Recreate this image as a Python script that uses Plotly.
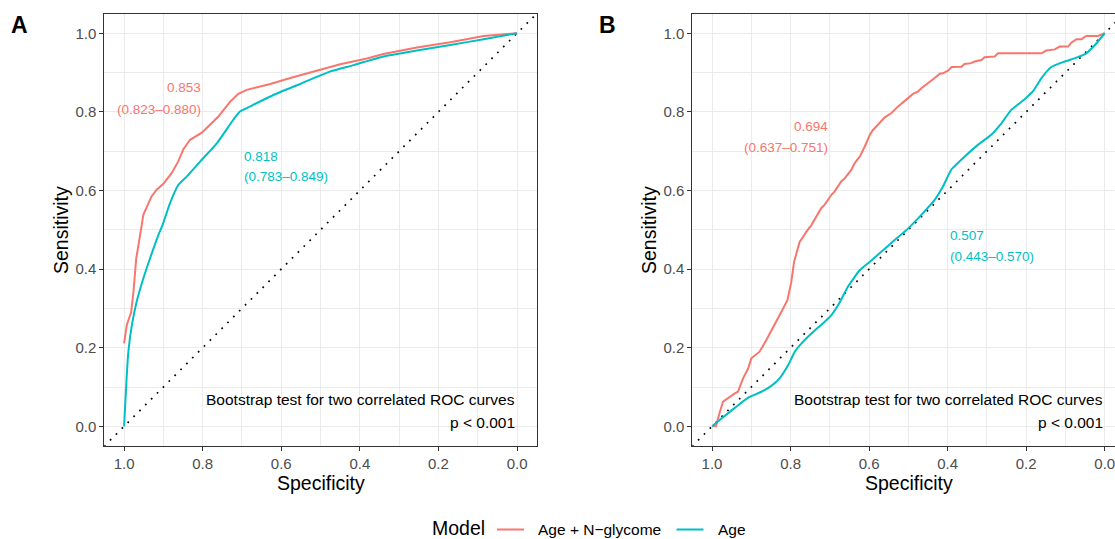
import plotly.graph_objects as go

# ---------------- data ----------------
models = ["Age + N\u2212glycome", "Age"]
colors = ["#F8766D", "#00BFC4"]
legend_title = "Model"

# Panel A
A_glyco_spec = [1.0, 0.993, 0.982, 0.976, 0.969, 0.963, 0.955, 0.951, 0.930, 0.917, 0.900, 0.879,
                0.862, 0.849, 0.832, 0.802, 0.781, 0.760, 0.730, 0.709, 0.688, 0.628, 0.577, 0.518,
                0.450, 0.382, 0.340, 0.255, 0.170, 0.085, 0.0]
A_glyco_sens = [0.211, 0.258, 0.290, 0.342, 0.427, 0.469, 0.512, 0.538, 0.585, 0.602, 0.617, 0.644,
                0.674, 0.705, 0.729, 0.747, 0.767, 0.788, 0.826, 0.846, 0.856, 0.871, 0.886, 0.903,
                0.921, 0.936, 0.947, 0.964, 0.977, 0.993, 1.0]
A_age_spec = [1.0, 0.993, 0.989, 0.980, 0.968, 0.951, 0.934, 0.913, 0.902, 0.883, 0.862, 0.840,
              0.806, 0.764, 0.722, 0.705, 0.679, 0.620, 0.552, 0.475, 0.416, 0.340, 0.255, 0.170,
              0.085, 0.0]
A_age_sens = [0.0, 0.131, 0.190, 0.258, 0.317, 0.376, 0.427, 0.486, 0.512, 0.568, 0.614, 0.636,
              0.674, 0.720, 0.780, 0.801, 0.814, 0.843, 0.871, 0.903, 0.919, 0.941, 0.956, 0.970,
              0.985, 1.0]

# Panel B
B_glyco_spec = [1.0, 0.990, 0.980, 0.972, 0.942, 0.934, 0.921, 0.908, 0.900, 0.879, 0.862, 0.840,
                0.823, 0.808, 0.798, 0.791, 0.777, 0.768, 0.760, 0.747, 0.735, 0.722, 0.713, 0.696,
                0.688, 0.671, 0.662, 0.645, 0.637, 0.624, 0.611, 0.598, 0.590, 0.577, 0.560, 0.543,
                0.526, 0.501, 0.488, 0.475, 0.467, 0.433, 0.420, 0.412, 0.399, 0.390, 0.365, 0.357,
                0.340, 0.331, 0.314, 0.306, 0.280, 0.272, 0.161, 0.149, 0.127, 0.115, 0.093, 0.085,
                0.072, 0.059, 0.047, 0.017, 0.0]
B_glyco_sens = [0.0, 0.0, 0.037, 0.063, 0.084, 0.088, 0.122, 0.147, 0.173, 0.190, 0.219, 0.258,
                0.292, 0.321, 0.368, 0.419, 0.469, 0.482, 0.495, 0.512, 0.534, 0.555, 0.564, 0.589,
                0.597, 0.623, 0.631, 0.653, 0.669, 0.686, 0.712, 0.742, 0.754, 0.767, 0.786, 0.797,
                0.814, 0.835, 0.846, 0.852, 0.860, 0.886, 0.897, 0.898, 0.905, 0.914, 0.915, 0.922,
                0.924, 0.928, 0.932, 0.939, 0.941, 0.949, 0.949, 0.956, 0.959, 0.966, 0.966, 0.976,
                0.985, 0.985, 0.993, 0.993, 1.0]
B_age_spec = [1.0, 0.976, 0.942, 0.908, 0.874, 0.849, 0.828, 0.806, 0.789, 0.772, 0.747, 0.713,
              0.696, 0.675, 0.654, 0.624, 0.598, 0.569, 0.535, 0.501, 0.467, 0.433, 0.412, 0.390,
              0.357, 0.323, 0.289, 0.263, 0.238, 0.204, 0.183, 0.161, 0.136, 0.102, 0.072, 0.047,
              0.025, 0.0]
B_age_sens = [0.0, 0.020, 0.047, 0.073, 0.088, 0.103, 0.122, 0.156, 0.190, 0.211, 0.236, 0.266,
              0.283, 0.315, 0.355, 0.397, 0.419, 0.444, 0.474, 0.503, 0.538, 0.576, 0.610, 0.654,
              0.686, 0.716, 0.742, 0.771, 0.805, 0.832, 0.852, 0.886, 0.914, 0.928, 0.938, 0.949,
              0.970, 1.0]

auc_A = ["0.853", "0.818"]
ci_A = ["(0.823\u20130.880)", "(0.783\u20130.849)"]
auc_B = ["0.694", "0.507"]
ci_B = ["(0.637\u20130.751)", "(0.443\u20130.570)"]
test_text = "Bootstrap test for two correlated ROC curves"
p_text = "p < 0.001"
tick_vals = [0.0, 0.2, 0.4, 0.6, 0.8, 1.0]
tick_text = ["0.0", "0.2", "0.4", "0.6", "0.8", "1.0"]

# ---------------- figure ----------------
W, H = 1115, 539
FONT = "Liberation Sans, Arial, Helvetica, sans-serif"
fig = go.Figure()

panels = [
    ("x", "y", [(A_glyco_spec, A_glyco_sens), (A_age_spec, A_age_sens)]),
    ("x2", "y2", [(B_glyco_spec, B_glyco_sens), (B_age_spec, B_age_sens)]),
]

for pi, (xa, ya, curves) in enumerate(panels):
    # chance diagonal (sensitivity = 1 - specificity), extended across the panel
    fig.add_trace(go.Scatter(x=[1.2, -0.2], y=[1 - 1.2, 1 + 0.2], mode="lines", xaxis=xa, yaxis=ya,
                             line=dict(color="black", width=1.7, dash="1.7px,6.6px"),
                             showlegend=False, hoverinfo="skip"))
    for mi, (sx, sy) in enumerate(curves):
        fig.add_trace(go.Scatter(
            x=sx, y=sy, mode="lines", xaxis=xa, yaxis=ya, name=models[mi],
            showlegend=False,
            line=dict(color=colors[mi], width=2,
                      shape="spline" if mi == 1 else "linear", smoothing=0.5)))

# domains (pixel -> paper)
def px(v):
    return v / W

def py(v):
    return 1 - v / H

ydom = [py(446), py(13.6)]

axis_common = dict(
    showgrid=True, gridcolor="#EBEBEB", gridwidth=1.3,
    minor=dict(dtick=0.1, tick0=0.1, showgrid=True, gridcolor="#EBEBEB", gridwidth=0.7),
    zeroline=False, showline=True, linecolor="#333333", linewidth=1.3,
    ticks="outside", ticklen=4, tickwidth=1.1, tickcolor="#333333",
    tickvals=tick_vals, ticktext=tick_text, ticklabeloverflow="allow",
    tickfont=dict(family=FONT, size=15, color="#4D4D4D"),
)

fig.update_layout(
    xaxis=dict(domain=[px(104.4), px(536.7)], range=[1.05, -0.05], anchor="y", mirror=True, **axis_common),
    yaxis=dict(domain=ydom, range=[-0.05, 1.05], anchor="x", mirror=True, **axis_common),
    xaxis2=dict(domain=[px(692.4), 1.0], range=[1.05, -0.0262], anchor="y2", mirror=True, **axis_common),
    yaxis2=dict(domain=ydom, range=[-0.05, 1.05], anchor="x2", mirror=False, **axis_common),
)

ann = []
shapes = []
# panel letters
ann.append(dict(text="<b>A</b>", x=px(19), y=py(25), xref="paper", yref="paper", showarrow=False,
                font=dict(family=FONT, size=23, color="black"), xanchor="center", yanchor="middle"))
ann.append(dict(text="<b>B</b>", x=px(607), y=py(25), xref="paper", yref="paper", showarrow=False,
                font=dict(family=FONT, size=23, color="black"), xanchor="center", yanchor="middle"))
# axis titles
for cx in (320.5, 908.5):
    ann.append(dict(text="Specificity", x=px(cx), y=py(483), xref="paper", yref="paper", showarrow=False,
                    font=dict(family=FONT, size=19.5, color="black"), xanchor="center", yanchor="middle"))
for cx in (61, 649):
    ann.append(dict(text="Sensitivity", x=px(cx), y=py(230), xref="paper", yref="paper", showarrow=False,
                    textangle=-90, font=dict(family=FONT, size=19.5, color="black"),
                    xanchor="center", yanchor="middle"))

# AUC labels
def lab(text, xa, ya, x, y, color, anchor):
    ann.append(dict(text=text, x=x, y=y, xref=xa, yref=ya, showarrow=False,
                    font=dict(family=FONT, size=13.5, color=color),
                    xanchor=anchor, yanchor="middle"))

lab(auc_A[0], "x", "y", 0.80, 0.863, colors[0], "right")
lab(ci_A[0], "x", "y", 0.80, 0.807, colors[0], "right")
lab(auc_A[1], "x", "y", 0.70, 0.686, colors[1], "left")
lab(ci_A[1], "x", "y", 0.70, 0.635, colors[1], "left")
lab(auc_B[0], "x2", "y2", 0.70, 0.762, colors[0], "right")
lab(ci_B[0], "x2", "y2", 0.70, 0.710, colors[0], "right")
lab(auc_B[1], "x2", "y2", 0.40, 0.485, colors[1], "left")
lab(ci_B[1], "x2", "y2", 0.40, 0.433, colors[1], "left")

for xa, ya in (("x", "y"), ("x2", "y2")):
    ann.append(dict(text=test_text, x=0.0, y=0.068, xref=xa, yref=ya, showarrow=False,
                    font=dict(family=FONT, size=15.5, color="black"), xanchor="right", yanchor="middle"))
    ann.append(dict(text=p_text, x=0.0, y=0.011, xref=xa, yref=ya, showarrow=False,
                    font=dict(family=FONT, size=15.5, color="black"), xanchor="right", yanchor="middle"))

# legend (drawn at the bottom, ggplot style)
LEG_Y = 529.5
ann.append(dict(text=legend_title, x=px(430.5), y=py(LEG_Y - 1.5), xref="paper", yref="paper",
                showarrow=False, font=dict(family=FONT, size=19.5, color="black"),
                xanchor="left", yanchor="middle", borderpad=0))
leg_line_x = [497, 676.5]
leg_text_x = [537, 716.5]
for i in range(len(models)):
    shapes.append(dict(type="line", xref="paper", yref="paper",
                       x0=px(leg_line_x[i]), x1=px(leg_line_x[i] + 27), y0=py(LEG_Y), y1=py(LEG_Y),
                       line=dict(color=colors[i], width=2)))
    ann.append(dict(text=models[i], x=px(leg_text_x[i]), y=py(LEG_Y), xref="paper", yref="paper",
                    showarrow=False, font=dict(family=FONT, size=15.5, color="black"),
                    xanchor="left", yanchor="middle", borderpad=0))

fig.update_layout(
    width=W, height=H,
    margin=dict(l=0, r=0, t=0, b=0),
    paper_bgcolor="white", plot_bgcolor="white",
    font=dict(family=FONT),
    annotations=ann,
    shapes=shapes,
    showlegend=False,
)

fig.write_html("out.html", config={"displayModeBar": False},
               post_script="document.body.style.margin='0';document.body.style.overflow='hidden';")
